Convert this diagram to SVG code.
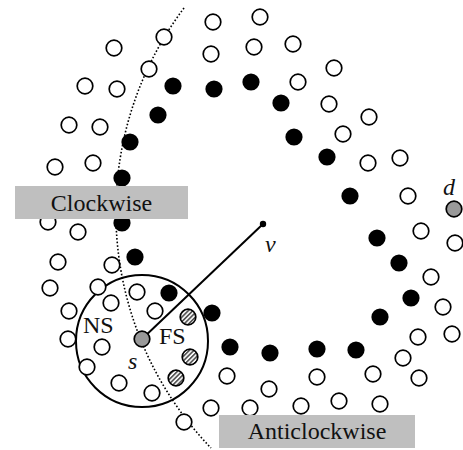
<svg xmlns="http://www.w3.org/2000/svg" width="463" height="450" viewBox="0 0 463 450">
<defs>
<pattern id="hatch" patternUnits="userSpaceOnUse" width="3.2" height="3.2" patternTransform="rotate(-45)">
<rect width="3.2" height="3.2" fill="#ffffff"/>
<rect width="3.2" height="1.7" fill="#555555"/>
</pattern>
<style>
.o{fill:#fff;stroke:#000;stroke-width:1.7}
.f{fill:#000}
.h{fill:url(#hatch);stroke:#000;stroke-width:1.7}
.g{fill:#999;stroke:#000;stroke-width:1.7}
.box{fill:#bfbfbf}
text{font-family:'Liberation Serif','Times New Roman',Times,'DejaVu Serif',serif;font-size:24px;fill:#111}
.it{font-style:italic}
</style>
</defs>
<rect width="463" height="450" fill="#fff"/>
<g id="connectors">
<path d="M184,8 A340,340 0 0 0 211,448" fill="none" stroke="#000" stroke-width="1.6" stroke-dasharray="1.6,2"/>
<line x1="142" y1="339" x2="263" y2="224" stroke="#000" stroke-width="2"/>
</g>
<g id="neighborhood">
<circle cx="142" cy="341" r="66" fill="none" stroke="#000" stroke-width="2"/>
</g>
<g id="open-nodes">
<circle class="o" cx="213" cy="22" r="7.8"/>
<circle class="o" cx="260" cy="17" r="7.8"/>
<circle class="o" cx="164" cy="37" r="7.8"/>
<circle class="o" cx="254" cy="47" r="7.8"/>
<circle class="o" cx="293" cy="44" r="7.8"/>
<circle class="o" cx="114" cy="48" r="7.8"/>
<circle class="o" cx="211" cy="54" r="7.8"/>
<circle class="o" cx="334" cy="68" r="7.8"/>
<circle class="o" cx="149" cy="69" r="7.8"/>
<circle class="o" cx="85" cy="86" r="7.8"/>
<circle class="o" cx="117" cy="89" r="7.8"/>
<circle class="o" cx="298" cy="82" r="7.8"/>
<circle class="o" cx="69" cy="125" r="7.8"/>
<circle class="o" cx="100" cy="127" r="7.8"/>
<circle class="o" cx="329" cy="104" r="7.8"/>
<circle class="o" cx="369" cy="117" r="7.8"/>
<circle class="o" cx="55" cy="167" r="7.8"/>
<circle class="o" cx="93" cy="163" r="7.8"/>
<circle class="o" cx="343" cy="134" r="7.8"/>
<circle class="o" cx="368" cy="163" r="7.8"/>
<circle class="o" cx="400" cy="158" r="7.8"/>
<circle class="o" cx="408" cy="196" r="7.8"/>
<circle class="o" cx="48" cy="222" r="7.8"/>
<circle class="o" cx="78" cy="232" r="7.8"/>
<circle class="o" cx="58" cy="262" r="7.8"/>
<circle class="o" cx="112" cy="265" r="7.8"/>
<circle class="o" cx="50" cy="288" r="7.8"/>
<circle class="o" cx="98" cy="287" r="7.8"/>
<circle class="o" cx="137" cy="292" r="7.8"/>
<circle class="o" cx="111" cy="303" r="7.8"/>
<circle class="o" cx="69" cy="311" r="7.8"/>
<circle class="o" cx="155" cy="311" r="7.8"/>
<circle class="o" cx="68" cy="339" r="7.8"/>
<circle class="o" cx="102" cy="347" r="7.8"/>
<circle class="o" cx="87" cy="367" r="7.8"/>
<circle class="o" cx="119" cy="383" r="7.8"/>
<circle class="o" cx="152" cy="393" r="7.8"/>
<circle class="o" cx="184" cy="422" r="7.8"/>
<circle class="o" cx="227" cy="376" r="7.8"/>
<circle class="o" cx="211" cy="408" r="7.8"/>
<circle class="o" cx="250" cy="408" r="7.8"/>
<circle class="o" cx="269" cy="389" r="7.8"/>
<circle class="o" cx="301" cy="406" r="7.8"/>
<circle class="o" cx="339" cy="401" r="7.8"/>
<circle class="o" cx="380" cy="404" r="7.8"/>
<circle class="o" cx="317" cy="377" r="7.8"/>
<circle class="o" cx="373" cy="374" r="7.8"/>
<circle class="o" cx="403" cy="358" r="7.8"/>
<circle class="o" cx="419" cy="378" r="7.8"/>
<circle class="o" cx="418" cy="337" r="7.8"/>
<circle class="o" cx="452" cy="334" r="7.8"/>
<circle class="o" cx="443" cy="307" r="7.8"/>
<circle class="o" cx="431" cy="277" r="7.8"/>
<circle class="o" cx="455" cy="243" r="7.8"/>
<circle class="o" cx="421" cy="231" r="7.8"/>
</g>
<g id="boundary-nodes">
<circle class="f" cx="173" cy="86" r="8.6"/>
<circle class="f" cx="214" cy="89" r="8.6"/>
<circle class="f" cx="251" cy="82" r="8.6"/>
<circle class="f" cx="158" cy="115" r="8.6"/>
<circle class="f" cx="281" cy="103" r="8.6"/>
<circle class="f" cx="130" cy="142" r="8.6"/>
<circle class="f" cx="294" cy="137" r="8.6"/>
<circle class="f" cx="327" cy="157" r="8.6"/>
<circle class="f" cx="122" cy="178" r="8.6"/>
<circle class="f" cx="350" cy="196" r="8.6"/>
<circle class="f" cx="122" cy="223" r="8.6"/>
<circle class="f" cx="135" cy="257" r="8.6"/>
<circle class="f" cx="169" cy="293" r="8.6"/>
<circle class="f" cx="212" cy="313" r="8.6"/>
<circle class="f" cx="230" cy="347" r="8.6"/>
<circle class="f" cx="270" cy="353" r="8.6"/>
<circle class="f" cx="317" cy="349" r="8.6"/>
<circle class="f" cx="356" cy="350" r="8.6"/>
<circle class="f" cx="377" cy="238" r="8.6"/>
<circle class="f" cx="399" cy="263" r="8.6"/>
<circle class="f" cx="411" cy="298" r="8.6"/>
<circle class="f" cx="380" cy="317" r="8.6"/>
</g>
<g id="forwarding-set">
<circle class="h" cx="188" cy="317" r="7.8"/>
<circle class="h" cx="190" cy="357" r="7.8"/>
<circle class="h" cx="176" cy="378" r="7.8"/>
</g>
<g id="node-s">
<circle class="g" cx="142" cy="339" r="7.8"/>
<text class="it" x="128" y="369">s</text>
</g>
<g id="node-d">
<circle class="g" cx="454" cy="209" r="7.8"/>
<text class="it" x="443" y="195">d</text>
</g>
<g id="node-v">
<circle class="f" cx="263" cy="224" r="3.2"/>
<text class="it" x="265" y="252">v</text>
</g>
<g id="labels">
<text x="83" y="333">NS</text>
<text x="159" y="344">FS</text>
</g>
<g id="clockwise">
<rect class="box" x="15" y="186" width="173" height="33"/>
<text x="101.5" y="211" text-anchor="middle">Clockwise</text>
</g>
<g id="anticlockwise">
<rect class="box" x="219" y="415" width="196" height="33"/>
<text x="317" y="439" text-anchor="middle">Anticlockwise</text>
</g>
</svg>
